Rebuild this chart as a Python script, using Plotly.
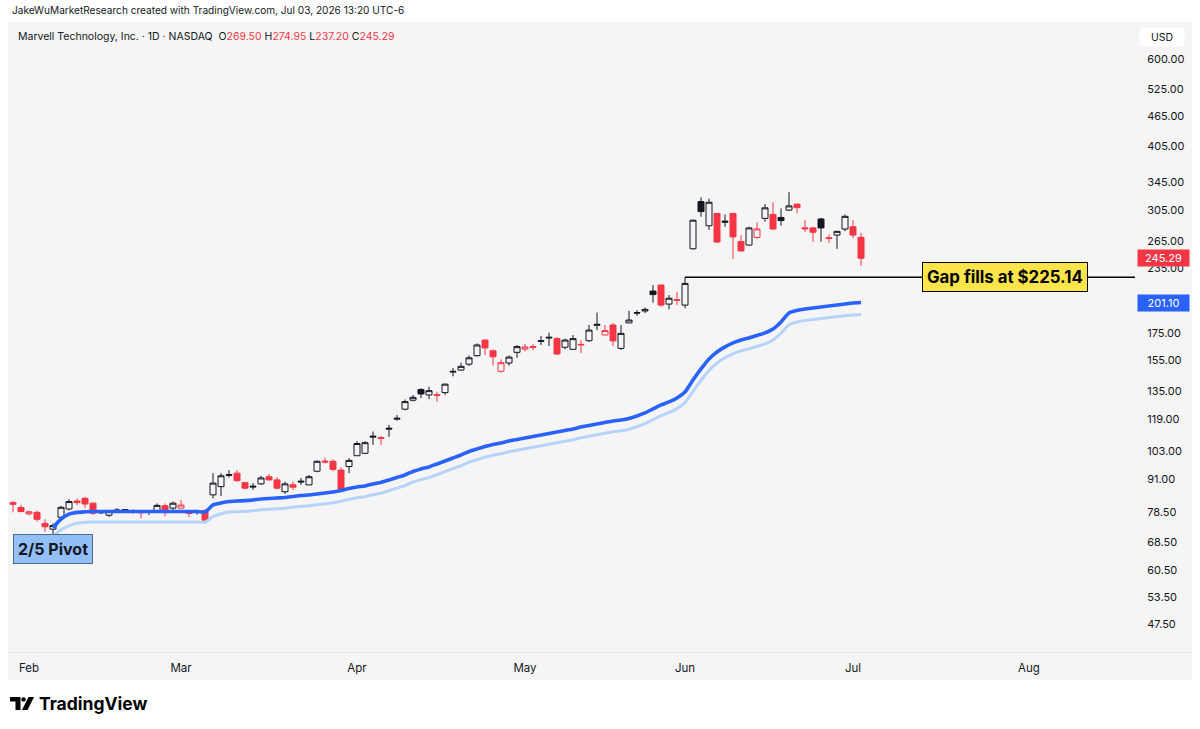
import numpy as np
import pandas as pd
import plotly.graph_objects as go

# ---------------- data ----------------
dates = [
    "2026-01-29", "2026-01-30",
    "2026-02-02", "2026-02-03", "2026-02-04", "2026-02-05", "2026-02-06",
    "2026-02-09", "2026-02-10", "2026-02-11", "2026-02-12", "2026-02-13",
    "2026-02-17", "2026-02-18", "2026-02-19", "2026-02-20",
    "2026-02-23", "2026-02-24", "2026-02-25", "2026-02-26", "2026-02-27",
    "2026-03-02", "2026-03-03", "2026-03-04", "2026-03-05", "2026-03-06",
    "2026-03-09", "2026-03-10", "2026-03-11", "2026-03-12", "2026-03-13",
    "2026-03-16", "2026-03-17", "2026-03-18", "2026-03-19", "2026-03-20",
    "2026-03-23", "2026-03-24", "2026-03-25", "2026-03-26", "2026-03-27",
    "2026-03-30", "2026-03-31",
    "2026-04-01", "2026-04-02",
    "2026-04-06", "2026-04-07", "2026-04-08", "2026-04-09", "2026-04-10",
    "2026-04-13", "2026-04-14", "2026-04-15", "2026-04-16", "2026-04-17",
    "2026-04-20", "2026-04-21", "2026-04-22", "2026-04-23", "2026-04-24",
    "2026-04-27", "2026-04-28", "2026-04-29", "2026-04-30",
    "2026-05-01",
    "2026-05-04", "2026-05-05", "2026-05-06", "2026-05-07", "2026-05-08",
    "2026-05-11", "2026-05-12", "2026-05-13", "2026-05-14", "2026-05-15",
    "2026-05-18", "2026-05-19", "2026-05-20", "2026-05-21", "2026-05-22",
    "2026-05-26", "2026-05-27", "2026-05-28", "2026-05-29",
    "2026-06-01", "2026-06-02", "2026-06-03", "2026-06-04", "2026-06-05",
    "2026-06-08", "2026-06-09", "2026-06-10", "2026-06-11", "2026-06-12",
    "2026-06-15", "2026-06-16", "2026-06-17", "2026-06-18",
    "2026-06-22", "2026-06-23", "2026-06-24", "2026-06-25", "2026-06-26",
    "2026-06-29", "2026-06-30",
    "2026-07-01", "2026-07-02",
]

opens = [
    81.9, 80.1, 77.9, 78.4, 74.6, 72.7, 76.7, 79.6, 82.5, 83.5, 81.7, 78.6, 77.4,
    79.0, 78.5, 78.6, 78.6, 78.6, 79.0, 80.8, 79.9, 79.9, 78.3, 78.6, 79.0,
    84.8, 88.0, 92.9, 93.5, 89.6, 88.2, 89.1, 92.0, 90.7, 86.0, 88.7, 90.2, 88.7,
    94.3, 98.7, 98.6, 94.8, 96.3,
    101.1, 102.2, 110.4, 109.7, 114.4, 119.1, 124.6, 129.7, 136.1, 132.8, 132.5,
    134.2, 147.7, 148.5, 152.5, 158.4, 169.9, 161.9, 147.7, 153.3, 160.8,
    163.2, 165.0, 168.9, 171.5, 171.0, 164.5, 163.0, 166.2, 169.4, 181.5, 173.8,
    181.8, 163.7, 183.5, 192.2, 193.6, 211.7, 217.5, 199.7, 203.0,
    198.8, 256.0, 316.4, 283.8, 300.0, 289.8, 300.0, 264.5, 260.3, 269.4, 293.4,
    298.7, 294.6, 304.5, 312.8, 281.2, 281.1, 292.6, 269.0, 272.2, 279.7,
    282.5, 269.50,
]
highs = [
    82.5, 81.1, 79.0, 79.0, 76.0, 74.6, 80.7, 83.2, 83.5, 84.1, 81.9, 78.9, 79.3,
    79.9, 79.6, 79.6, 79.0, 79.0, 81.6, 81.6, 82.3, 82.9, 78.7, 79.3, 79.5,
    93.5, 93.5, 94.8, 94.8, 89.6, 89.4, 92.4, 93.2, 91.8, 90.0, 90.0, 91.5, 92.7,
    99.0, 100.2, 99.5, 96.0, 100.0,
    107.9, 107.9, 112.7, 110.6, 116.1, 121.4, 130.1, 132.8, 136.9, 137.8, 134.7,
    139.8, 149.9, 153.5, 158.6, 167.4, 170.5, 162.9, 155.9, 158.6, 166.2,
    166.9, 166.9, 173.0, 175.6, 172.1, 171.0, 173.8, 169.8, 181.8, 192.3, 181.8,
    183.5, 181.8, 193.7, 194.4, 196.6, 217.5, 217.5, 208.0, 211.0,
    225.14, 292.0, 322.5, 320.4, 300.5, 298.7, 300.5, 272.2, 282.5, 288.2, 312.8,
    315.4, 306.8, 330.0, 313.0, 291.2, 282.5, 294.0, 273.0, 277.5, 298.7,
    291.2, 274.95,
]
lows = [
    78.4, 78.4, 77.3, 75.2, 71.8, 70.9, 76.0, 79.1, 81.1, 79.9, 77.5, 77.8, 76.8,
    78.2, 78.2, 77.9, 76.3, 77.5, 78.7, 77.0, 79.3, 79.9, 76.8, 77.6, 75.2,
    83.5, 84.4, 91.7, 89.9, 87.0, 86.7, 88.7, 90.4, 87.0, 85.2, 86.7, 88.7, 88.7,
    93.9, 97.6, 94.3, 86.7, 93.5,
    101.1, 101.8, 106.1, 106.1, 110.0, 118.3, 124.0, 129.0, 131.0, 130.4, 128.8,
    132.8, 144.4, 148.0, 151.2, 157.8, 158.9, 151.5, 146.8, 151.5, 157.0,
    161.5, 162.5, 166.2, 165.4, 158.9, 163.0, 162.5, 160.2, 168.6, 177.7, 173.8,
    165.4, 162.5, 183.5, 189.4, 191.8, 200.9, 197.3, 195.0, 198.8,
    196.0, 255.0, 295.5, 278.4, 262.6, 282.5, 244.5, 253.0, 259.5, 267.5, 289.1,
    279.0, 283.8, 303.1, 300.0, 275.7, 264.2, 264.2, 262.6, 255.8, 277.0,
    268.6, 237.20,
]
closes = [
    81.3, 78.7, 78.6, 76.0, 73.5, 73.9, 80.2, 82.3, 81.9, 81.4, 78.1, 78.3, 78.8,
    79.2, 79.4, 78.8, 78.3, 78.4, 80.9, 78.3, 81.7, 81.0, 78.0, 78.4, 75.7,
    89.4, 92.4, 92.6, 90.4, 87.4, 87.9, 91.5, 90.7, 87.4, 89.1, 87.8, 89.9, 92.0,
    98.6, 98.3, 95.1, 87.1, 99.0,
    106.8, 107.2, 110.0, 109.3, 114.0, 119.6, 128.9, 131.4, 133.4, 135.4, 132.9,
    139.4, 147.3, 151.0, 156.9, 166.2, 164.0, 157.6, 153.5, 157.4, 165.0,
    164.7, 164.5, 169.4, 172.0, 159.6, 169.9, 171.0, 166.6, 177.7, 182.3, 177.3,
    169.3, 175.1, 185.9, 191.8, 195.0, 208.4, 198.8, 205.0, 203.6,
    219.1, 291.0, 302.5, 315.4, 263.8, 288.5, 270.0, 253.5, 281.1, 279.8, 307.6,
    279.7, 290.5, 310.3, 307.9, 280.0, 275.7, 281.1, 268.0, 276.8, 296.1,
    272.2, 245.29,
]

# Anchored VWAP from the 2/5 pivot (main line) and its lower band
vwap_anchor = "2026-02-05"
vwap_main = [
    73.1, 76.1, 77.8, 78.4, 78.6, 78.7, 78.7, 78.7, 78.7, 78.7, 78.7, 78.7, 78.7,
    78.7, 78.7, 78.7, 78.7, 78.7, 78.7, 78.5,
    81.05, 81.79, 82.33, 82.52, 82.63, 82.88, 83.26, 83.45, 83.63, 83.83, 84.21,
    84.59, 84.77, 85.16, 85.54, 85.93, 86.50, 87.29, 87.88, 88.27, 89.07, 89.67,
    90.68, 91.70, 92.74, 94.21, 95.27, 96.13, 97.43, 98.75, 100.09, 101.44,
    103.05, 104.22, 105.39, 106.35, 107.06, 108.03, 108.76, 109.49, 110.24,
    110.98, 111.73, 112.49, 113.25, 114.01, 115.04, 115.82, 116.61, 117.39,
    118.18, 118.71, 119.51, 120.87, 122.50, 124.73, 126.98, 128.71, 131.05,
    134.62, 142.06, 149.26, 156.11, 161.09, 164.76, 167.73, 170.01, 171.55,
    173.48, 175.44, 178.62, 184.32, 191.92, 194.08, 195.39, 196.27, 197.16,
    198.05, 198.94, 199.84, 200.72, 201.10,
]
vwap_lower = [
    70.5, 72.5, 73.8, 74.7, 75.0, 75.1, 75.1, 75.1, 75.1, 75.1, 75.1, 75.1, 75.1,
    75.1, 75.1, 75.1, 75.1, 75.1, 75.1, 75.0,
    76.9, 77.9, 78.5, 78.64, 78.75, 78.98, 79.35, 79.53, 79.70, 79.89, 80.25,
    80.61, 80.79, 81.16, 81.52, 81.89, 82.43, 83.19, 83.75, 84.12, 84.88, 85.46,
    86.42, 87.39, 88.38, 89.78, 90.79, 91.61, 92.85, 94.11, 95.39, 96.67,
    98.21, 99.32, 100.44, 101.35, 102.03, 102.95, 103.65, 104.34, 105.06,
    105.76, 106.48, 107.20, 107.93, 108.65, 109.63, 110.38, 111.13, 111.87,
    112.63, 113.13, 113.89, 115.19, 116.74, 118.87, 121.01, 122.66, 124.89,
    128.29, 135.0, 141.8, 148.3, 153.3, 156.9, 159.7, 161.9, 163.4,
    165.2, 167.0, 170.0, 175.2, 182.0, 184.3, 185.6, 186.4, 187.2,
    188.0, 188.8, 189.5, 190.2, 190.6,
]

market_holidays = ["2026-02-16", "2026-04-03", "2026-05-25", "2026-06-19", "2026-07-03"]
month_labels = ["Feb", "Mar", "Apr", "May", "Jun", "Jul", "Aug"]
month_first_sessions = ["2026-02-02", "2026-03-02", "2026-04-01", "2026-05-01",
                        "2026-06-01", "2026-07-01", "2026-08-03"]
price_ticks = [47.5, 53.5, 60.5, 68.5, 78.5, 91, 103, 119, 135, 155, 175,
               235, 265, 305, 345, 405, 465, 525, 600]
gap_fill_price = 225.14
gap_start = "2026-06-01"
last_close = 245.29
last_vwap = 201.10

# ---------------- styling ----------------
W, H = 1200, 729
BG = "#f5f5f5"
RED = "#f23645"
BLACK = "#131722"
BLUE = "#2962ff"
LIGHTBLUE = "#b7d3fb"
FONT = "Inter"

# session calendar (trading days, used as the category time scale)
sessions = [d.strftime("%Y-%m-%d") for d in pd.bdate_range("2026-01-29", "2026-08-31")
            if d.strftime("%Y-%m-%d") not in market_holidays]

n = len(dates)
assert len(opens) == len(highs) == len(lows) == len(closes) == n
vw_dates = dates[dates.index(vwap_anchor):]
assert len(vw_dates) == len(vwap_main) == len(vwap_lower)

# TradingView "hollow candles": hollow if close>=open, red if close<previous close
prev_close = [opens[0]] + closes[:-1]
groups = {"hollow_black": [], "filled_black": [], "hollow_red": [], "filled_red": []}
for i in range(n):
    up_bar = closes[i] >= opens[i]
    up_day = closes[i] >= prev_close[i]
    key = ("hollow_" if up_bar else "filled_") + ("black" if up_day else "red")
    groups[key].append(i)

styles = {
    "hollow_black": (BLACK, BG),
    "filled_black": (BLACK, BLACK),
    "hollow_red": (RED, BG),
    "filled_red": (RED, RED),
}

fig = go.Figure()
for key, idx in groups.items():
    if not idx:
        continue
    lc, fc = styles[key]
    fig.add_trace(go.Candlestick(
        x=[dates[i] for i in idx],
        open=[opens[i] for i in idx], high=[highs[i] for i in idx],
        low=[lows[i] for i in idx], close=[closes[i] for i in idx],
        increasing=dict(line=dict(color=lc, width=1), fillcolor=fc),
        decreasing=dict(line=dict(color=lc, width=1), fillcolor=fc),
        whiskerwidth=0, showlegend=False, hoverinfo="skip",
    ))

fig.add_trace(go.Scatter(x=vw_dates, y=vwap_lower, mode="lines",
                         line=dict(color=LIGHTBLUE, width=3, shape="spline", smoothing=0.6),
                         showlegend=False, hoverinfo="skip"))
fig.add_trace(go.Scatter(x=vw_dates, y=vwap_main, mode="lines",
                         line=dict(color=BLUE, width=3.6, shape="spline", smoothing=0.6),
                         showlegend=False, hoverinfo="skip"))

# plot geometry (pixels)
PL, PR, PT, PB = 8, 1135, 22, 652
px_per_bar = 8.0
first_bar_px = 13.0
x_lo = (PL - first_bar_px) / px_per_bar
x_hi = (PR - first_bar_px) / px_per_bar
# log range: 600 at y=59, 47.5 at y=624
k = (624 - 59) / (np.log10(600) - np.log10(47.5))
y_top = np.log10(600) + (59 - PT) / k
y_bot = np.log10(600) - (PB - 59) / k


def px(x):
    return x / W


def py(y):
    return 1 - y / H


fig.update_layout(
    width=W, height=H, margin=dict(l=0, r=0, t=0, b=0),
    paper_bgcolor="white", plot_bgcolor="rgba(0,0,0,0)",
    showlegend=False, hovermode=False,
    font=dict(family=FONT, color=BLACK),
    boxgap=0.25, boxgroupgap=0.0,
    xaxis=dict(
        type="category", categoryorder="array", categoryarray=sessions,
        domain=[px(PL), px(PR)], range=[x_lo, x_hi],
        tickmode="array", tickvals=month_first_sessions, ticktext=month_labels,
        showgrid=False, zeroline=False, showline=False,
        ticks="outside", ticklen=5, tickcolor="rgba(0,0,0,0)",
        tickfont=dict(size=11.5, color=BLACK, family=FONT),
        rangeslider=dict(visible=False), fixedrange=True,
    ),
    yaxis=dict(
        type="log", side="right", anchor="x",
        domain=[py(PB), py(PT)], range=[y_bot, y_top],
        tickmode="array", tickvals=price_ticks,
        ticktext=[f"{v:.2f}" for v in price_ticks],
        showgrid=False, zeroline=False, showline=False,
        ticks="outside", ticklen=9, tickcolor="rgba(0,0,0,0)",
        tickfont=dict(size=11, color=BLACK, family=FONT), fixedrange=True,
    ),
)

shapes = [
    dict(type="rect", xref="paper", yref="paper", x0=px(8), x1=px(1192), y0=py(680), y1=py(22),
         fillcolor=BG, line=dict(width=0), layer="below"),
    dict(type="line", xref="paper", yref="paper", x0=px(8), x1=px(1192), y0=py(652.5), y1=py(652.5),
         line=dict(color="#e6e6e6", width=1), layer="below"),
    dict(type="line", xref="x", yref="y", x0=sessions.index(gap_start), x1=x_hi,
         y0=gap_fill_price, y1=gap_fill_price, line=dict(color="black", width=1.5)),
    # TradingView logo mark
    dict(type="path", xref="paper", yref="paper",
         path=f"M {px(10)} {py(697)} L {px(20.5)} {py(697)} L {px(20.5)} {py(710)} L {px(15.5)} {py(710)} "
              f"L {px(15.5)} {py(701.5)} L {px(10)} {py(701.5)} Z",
         fillcolor="black", line=dict(width=0)),
    dict(type="circle", xref="paper", yref="paper", x0=px(21.3), x1=px(25.7), y0=py(701.6), y1=py(697.2),
         fillcolor="black", line=dict(width=0)),
    dict(type="path", xref="paper", yref="paper",
         path=f"M {px(22)} {py(710)} L {px(27.5)} {py(710)} L {px(34)} {py(697)} L {px(28.5)} {py(697)} Z",
         fillcolor="black", line=dict(width=0)),
]
fig.update_layout(shapes=shapes)

red_span = lambda v: f"<span style='color:{RED}'>{v}</span>"
annotations = [
    dict(xref="paper", yref="paper", x=px(10), y=py(10), xanchor="left", yanchor="middle",
         text="JakeWuMarketResearch created with TradingView.com, Jul 03, 2026 13:20 UTC-6",
         showarrow=False, font=dict(size=10.1, color=BLACK, family=FONT)),
    dict(xref="paper", yref="paper", x=px(16), y=py(37), xanchor="left", yanchor="middle",
         text=("Marvell Technology, Inc. · 1D · NASDAQ  "
               f"O{red_span(f'{opens[-1]:.2f}')} H{red_span(f'{highs[-1]:.2f}')} "
               f"L{red_span(f'{lows[-1]:.2f}')} C{red_span(f'{closes[-1]:.2f}')}"),
         showarrow=False, font=dict(size=10.5, color=BLACK, family=FONT)),
    dict(xref="paper", yref="paper", x=px(1162), y=py(37), xanchor="center", yanchor="middle",
         text="USD", showarrow=False, bgcolor="white", width=40, height=14, borderpad=2,
         font=dict(size=10.5, color=BLACK, family=FONT)),
    dict(xref="paper", yref="y", x=px(1163), y=np.log10(last_close), xanchor="center", yanchor="middle",
         text=f"{last_close:.2f}", showarrow=False, bgcolor=RED, width=48, height=13, borderpad=1.5,
         font=dict(size=11, color="white", family=FONT)),
    dict(xref="paper", yref="y", x=px(1163), y=np.log10(last_vwap), xanchor="center", yanchor="middle",
         text=f"{last_vwap:.2f}", showarrow=False, bgcolor=BLUE, width=48, height=13, borderpad=1.5,
         font=dict(size=11, color="white", family=FONT)),
    dict(xref="x", yref="y", x=124.0, y=np.log10(gap_fill_price), xanchor="center", yanchor="middle",
         text=f"<b>Gap fills at ${gap_fill_price:.2f}</b>", showarrow=False,
         bgcolor="#fbe54b", bordercolor="black", borderwidth=1, borderpad=4,
         font=dict(size=16.8, color="black", family=FONT)),
    dict(xref="x", yref="y", x=vwap_anchor, y=np.log10(66.4), xanchor="center", yanchor="middle",
         text="<b>2/5 Pivot</b>", showarrow=False,
         bgcolor="#93bff7", bordercolor="#4d6b95", borderwidth=1, borderpad=4,
         font=dict(size=16, color=BLACK, family=FONT)),
    dict(xref="paper", yref="paper", x=px(37), y=py(703), xanchor="left", yanchor="middle",
         text="<b>TradingView</b>", showarrow=False,
         font=dict(size=17.5, color="black", family=FONT)),
]
fig.update_layout(annotations=annotations)

fig.write_html("out.html")
